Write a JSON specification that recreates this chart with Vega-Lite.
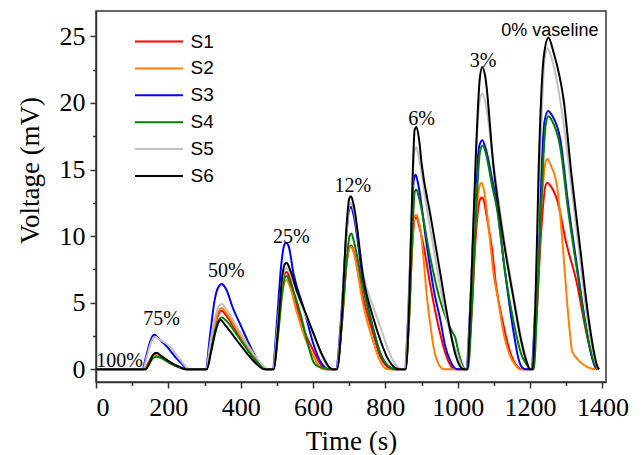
{
"$schema":"https://vega.github.io/schema/vega-lite/v6.json",
"width":510,"height":371,
"autosize":{"type":"none"},
"padding":{"left":96,"top":11,"right":38,"bottom":73},
"background":"white",
"config":{"view":{"stroke":"#333333","strokeWidth":1.5},
"axis":{"grid":false,"domainColor":"#333333","domainWidth":1.5,"tickColor":"#333333","tickWidth":1.5,"labelColor":"black","titleColor":"black","labelFont":"Liberation Serif","titleFont":"Liberation Serif","titleFontWeight":"normal"}},
"resolve":{"axis":{"x":"independent","y":"independent"}},
"layer":[
{"data":{"values":[
{"s":"S1","t":0,"v":0},{"s":"S1","t":132,"v":0},{"s":"S1","t":145,"v":0.5},{"s":"S1","t":155,"v":1.0},{"s":"S1","t":167,"v":1.2},{"s":"S1","t":180,"v":1.0},{"s":"S1","t":205,"v":0.5},{"s":"S1","t":230,"v":0.15},{"s":"S1","t":248,"v":0},
{"s":"S1","t":305,"v":0},{"s":"S1","t":318,"v":1.5},{"s":"S1","t":332,"v":3.6},{"s":"S1","t":342,"v":4.3},{"s":"S1","t":348,"v":4.4},{"s":"S1","t":358,"v":4.1},{"s":"S1","t":400,"v":2.3},{"s":"S1","t":440,"v":0.7},{"s":"S1","t":465,"v":0.05},{"s":"S1","t":470,"v":0},
{"s":"S1","t":490,"v":0},{"s":"S1","t":502,"v":2.5},{"s":"S1","t":514,"v":6.0},{"s":"S1","t":522,"v":7.2},{"s":"S1","t":527,"v":7.3},{"s":"S1","t":535,"v":6.9},{"s":"S1","t":555,"v":4.8},{"s":"S1","t":580,"v":2.6},{"s":"S1","t":601,"v":1.4},{"s":"S1","t":620,"v":0.4},{"s":"S1","t":635,"v":0},
{"s":"S1","t":665,"v":0},{"s":"S1","t":680,"v":3.5},{"s":"S1","t":693,"v":8},{"s":"S1","t":701,"v":9.2},{"s":"S1","t":706,"v":9.3},{"s":"S1","t":713,"v":8.8},{"s":"S1","t":740,"v":5.2},{"s":"S1","t":765,"v":2.8},{"s":"S1","t":786,"v":0.95},{"s":"S1","t":805,"v":0.2},{"s":"S1","t":820,"v":0},
{"s":"S1","t":855,"v":0},{"s":"S1","t":865,"v":3.5},{"s":"S1","t":875,"v":9.5},{"s":"S1","t":881,"v":11.3},{"s":"S1","t":886,"v":11.4},{"s":"S1","t":893,"v":10.8},{"s":"S1","t":906,"v":9.2},{"s":"S1","t":925,"v":6.2},{"s":"S1","t":943,"v":3.7},{"s":"S1","t":970,"v":0.9},{"s":"S1","t":985,"v":0.1},{"s":"S1","t":992,"v":0},
{"s":"S1","t":1025,"v":0},{"s":"S1","t":1038,"v":4},{"s":"S1","t":1050,"v":10},{"s":"S1","t":1060,"v":12.6},{"s":"S1","t":1066,"v":12.9},{"s":"S1","t":1073,"v":12.6},{"s":"S1","t":1080,"v":11.5},{"s":"S1","t":1095,"v":9},{"s":"S1","t":1105,"v":6.5},{"s":"S1","t":1125,"v":3.5},{"s":"S1","t":1146,"v":1.2},{"s":"S1","t":1165,"v":0.2},{"s":"S1","t":1178,"v":0},
{"s":"S1","t":1205,"v":0},{"s":"S1","t":1218,"v":4},{"s":"S1","t":1230,"v":10},{"s":"S1","t":1242,"v":13.7},{"s":"S1","t":1248,"v":14.0},{"s":"S1","t":1256,"v":13.8},{"s":"S1","t":1275,"v":12.7},{"s":"S1","t":1300,"v":9.5},{"s":"S1","t":1330,"v":6.4},{"s":"S1","t":1350,"v":3.5},{"s":"S1","t":1367,"v":1.4},{"s":"S1","t":1380,"v":0.2},{"s":"S1","t":1386,"v":0},

{"s":"S2","t":0,"v":0},{"s":"S2","t":134,"v":0},{"s":"S2","t":147,"v":0.5},{"s":"S2","t":157,"v":0.95},{"s":"S2","t":168,"v":1.05},{"s":"S2","t":180,"v":0.9},{"s":"S2","t":205,"v":0.45},{"s":"S2","t":235,"v":0.1},{"s":"S2","t":255,"v":0},
{"s":"S2","t":305,"v":0},{"s":"S2","t":318,"v":1.6},{"s":"S2","t":332,"v":3.8},{"s":"S2","t":342,"v":4.5},{"s":"S2","t":348,"v":4.6},{"s":"S2","t":358,"v":4.3},{"s":"S2","t":400,"v":2.5},{"s":"S2","t":440,"v":0.8},{"s":"S2","t":465,"v":0.1},{"s":"S2","t":472,"v":0},
{"s":"S2","t":490,"v":0},{"s":"S2","t":502,"v":2.3},{"s":"S2","t":514,"v":5.5},{"s":"S2","t":522,"v":6.6},{"s":"S2","t":527,"v":6.7},{"s":"S2","t":535,"v":6.3},{"s":"S2","t":555,"v":4.3},{"s":"S2","t":580,"v":2.2},{"s":"S2","t":601,"v":1.0},{"s":"S2","t":615,"v":0.3},{"s":"S2","t":628,"v":0},
{"s":"S2","t":665,"v":0},{"s":"S2","t":680,"v":3.5},{"s":"S2","t":693,"v":8},{"s":"S2","t":701,"v":9.1},{"s":"S2","t":706,"v":9.2},{"s":"S2","t":713,"v":8.7},{"s":"S2","t":740,"v":4.7},{"s":"S2","t":765,"v":2.2},{"s":"S2","t":786,"v":0.6},{"s":"S2","t":798,"v":0.1},{"s":"S2","t":808,"v":0},
{"s":"S2","t":855,"v":0},{"s":"S2","t":865,"v":3.6},{"s":"S2","t":875,"v":9.7},{"s":"S2","t":881,"v":11.5},{"s":"S2","t":886,"v":11.6},{"s":"S2","t":892,"v":11.1},{"s":"S2","t":897,"v":10.5},{"s":"S2","t":906,"v":8.2},{"s":"S2","t":915,"v":5.4},{"s":"S2","t":925,"v":3.2},{"s":"S2","t":933,"v":1.7},{"s":"S2","t":945,"v":0.5},{"s":"S2","t":955,"v":0.1},{"s":"S2","t":962,"v":0},
{"s":"S2","t":1025,"v":0},{"s":"S2","t":1038,"v":4.5},{"s":"S2","t":1050,"v":11},{"s":"S2","t":1060,"v":13.7},{"s":"S2","t":1066,"v":14.0},{"s":"S2","t":1073,"v":13.4},{"s":"S2","t":1088,"v":10},{"s":"S2","t":1100,"v":7},{"s":"S2","t":1110,"v":5.5},{"s":"S2","t":1127,"v":2.7},{"s":"S2","t":1145,"v":1.0},{"s":"S2","t":1160,"v":0.3},{"s":"S2","t":1172,"v":0},
{"s":"S2","t":1205,"v":0},{"s":"S2","t":1218,"v":4.5},{"s":"S2","t":1230,"v":11.5},{"s":"S2","t":1242,"v":15.4},{"s":"S2","t":1248,"v":15.8},{"s":"S2","t":1256,"v":15.4},{"s":"S2","t":1275,"v":13.7},{"s":"S2","t":1290,"v":9.5},{"s":"S2","t":1302,"v":5.2},{"s":"S2","t":1310,"v":2.8},{"s":"S2","t":1316,"v":1.4},{"s":"S2","t":1330,"v":0.8},{"s":"S2","t":1345,"v":0.4},{"s":"S2","t":1371,"v":0.05},{"s":"S2","t":1385,"v":0},

{"s":"S3","t":0,"v":0},{"s":"S3","t":128,"v":0},{"s":"S3","t":138,"v":0.9},{"s":"S3","t":150,"v":2.1},{"s":"S3","t":158,"v":2.55},{"s":"S3","t":163,"v":2.6},{"s":"S3","t":170,"v":2.4},{"s":"S3","t":196,"v":1.7},{"s":"S3","t":223,"v":0.8},{"s":"S3","t":240,"v":0.35},{"s":"S3","t":252,"v":0},
{"s":"S3","t":303,"v":0},{"s":"S3","t":315,"v":2.5},{"s":"S3","t":328,"v":5.2},{"s":"S3","t":340,"v":6.25},{"s":"S3","t":348,"v":6.4},{"s":"S3","t":358,"v":6.1},{"s":"S3","t":380,"v":4.5},{"s":"S3","t":400,"v":3.3},{"s":"S3","t":420,"v":2.1},{"s":"S3","t":440,"v":1.0},{"s":"S3","t":458,"v":0.25},{"s":"S3","t":470,"v":0},
{"s":"S3","t":488,"v":0},{"s":"S3","t":500,"v":3.5},{"s":"S3","t":512,"v":7.8},{"s":"S3","t":520,"v":9.3},{"s":"S3","t":525,"v":9.5},{"s":"S3","t":532,"v":9.3},{"s":"S3","t":546,"v":7.2},{"s":"S3","t":575,"v":4.5},{"s":"S3","t":601,"v":1.9},{"s":"S3","t":620,"v":0.6},{"s":"S3","t":635,"v":0.1},{"s":"S3","t":645,"v":0},
{"s":"S3","t":663,"v":0},{"s":"S3","t":678,"v":4},{"s":"S3","t":692,"v":10},{"s":"S3","t":700,"v":12.0},{"s":"S3","t":705,"v":12.2},{"s":"S3","t":712,"v":11.6},{"s":"S3","t":740,"v":6.3},{"s":"S3","t":765,"v":3.2},{"s":"S3","t":786,"v":1.2},{"s":"S3","t":810,"v":0.2},{"s":"S3","t":828,"v":0},
{"s":"S3","t":853,"v":0},{"s":"S3","t":863,"v":4},{"s":"S3","t":873,"v":11.5},{"s":"S3","t":879,"v":14.3},{"s":"S3","t":884,"v":14.6},{"s":"S3","t":890,"v":14.0},{"s":"S3","t":915,"v":9.2},{"s":"S3","t":935,"v":5.8},{"s":"S3","t":952,"v":3.7},{"s":"S3","t":965,"v":1.8},{"s":"S3","t":980,"v":0.6},{"s":"S3","t":1000,"v":0},
{"s":"S3","t":1023,"v":0},{"s":"S3","t":1035,"v":5},{"s":"S3","t":1048,"v":13},{"s":"S3","t":1060,"v":16.8},{"s":"S3","t":1068,"v":17.2},{"s":"S3","t":1076,"v":16.7},{"s":"S3","t":1095,"v":14.3},{"s":"S3","t":1109,"v":12.2},{"s":"S3","t":1130,"v":7.5},{"s":"S3","t":1155,"v":2.7},{"s":"S3","t":1168,"v":0.8},{"s":"S3","t":1178,"v":0.15},{"s":"S3","t":1188,"v":0},
{"s":"S3","t":1203,"v":0},{"s":"S3","t":1215,"v":5},{"s":"S3","t":1228,"v":13},{"s":"S3","t":1240,"v":18.6},{"s":"S3","t":1250,"v":19.4},{"s":"S3","t":1260,"v":19.1},{"s":"S3","t":1284,"v":17.2},{"s":"S3","t":1305,"v":12.5},{"s":"S3","t":1330,"v":7.7},{"s":"S3","t":1350,"v":4},{"s":"S3","t":1367,"v":1.4},{"s":"S3","t":1380,"v":0.2},{"s":"S3","t":1388,"v":0},

{"s":"S4","t":0,"v":0},{"s":"S4","t":136,"v":0},{"s":"S4","t":148,"v":0.45},{"s":"S4","t":158,"v":0.85},{"s":"S4","t":168,"v":0.95},{"s":"S4","t":180,"v":0.85},{"s":"S4","t":205,"v":0.45},{"s":"S4","t":230,"v":0.15},{"s":"S4","t":248,"v":0},
{"s":"S4","t":306,"v":0},{"s":"S4","t":318,"v":1.4},{"s":"S4","t":332,"v":3.2},{"s":"S4","t":342,"v":3.8},{"s":"S4","t":348,"v":3.9},{"s":"S4","t":358,"v":3.7},{"s":"S4","t":400,"v":2.2},{"s":"S4","t":440,"v":0.7},{"s":"S4","t":468,"v":0.05},{"s":"S4","t":475,"v":0},
{"s":"S4","t":491,"v":0},{"s":"S4","t":503,"v":2.5},{"s":"S4","t":515,"v":5.8},{"s":"S4","t":522,"v":6.9},{"s":"S4","t":527,"v":7.0},{"s":"S4","t":535,"v":6.6},{"s":"S4","t":565,"v":4.2},{"s":"S4","t":585,"v":2.0},{"s":"S4","t":601,"v":0.55},{"s":"S4","t":615,"v":0.2},{"s":"S4","t":640,"v":0.05},{"s":"S4","t":655,"v":0},
{"s":"S4","t":666,"v":0},{"s":"S4","t":680,"v":3.5},{"s":"S4","t":694,"v":8.5},{"s":"S4","t":701,"v":10.0},{"s":"S4","t":706,"v":10.2},{"s":"S4","t":713,"v":9.6},{"s":"S4","t":740,"v":5.9},{"s":"S4","t":765,"v":3.2},{"s":"S4","t":786,"v":1.2},{"s":"S4","t":810,"v":0.2},{"s":"S4","t":830,"v":0},
{"s":"S4","t":856,"v":0},{"s":"S4","t":866,"v":4},{"s":"S4","t":876,"v":11},{"s":"S4","t":881,"v":13.3},{"s":"S4","t":886,"v":13.5},{"s":"S4","t":892,"v":13.0},{"s":"S4","t":924,"v":8.4},{"s":"S4","t":950,"v":5.3},{"s":"S4","t":970,"v":3.7},{"s":"S4","t":985,"v":2.8},{"s":"S4","t":993,"v":2.4},{"s":"S4","t":1003,"v":1.2},{"s":"S4","t":1012,"v":0.4},{"s":"S4","t":1022,"v":0},
{"s":"S4","t":1028,"v":0},{"s":"S4","t":1040,"v":5},{"s":"S4","t":1052,"v":12.5},{"s":"S4","t":1062,"v":16.4},{"s":"S4","t":1069,"v":16.8},{"s":"S4","t":1077,"v":16.3},{"s":"S4","t":1095,"v":13.8},{"s":"S4","t":1109,"v":12.0},{"s":"S4","t":1130,"v":7.5},{"s":"S4","t":1155,"v":3.5},{"s":"S4","t":1175,"v":1.2},{"s":"S4","t":1192,"v":0.3},{"s":"S4","t":1205,"v":0},
{"s":"S4","t":1210,"v":0},{"s":"S4","t":1220,"v":5},{"s":"S4","t":1232,"v":13},{"s":"S4","t":1243,"v":18.3},{"s":"S4","t":1251,"v":19.0},{"s":"S4","t":1260,"v":18.7},{"s":"S4","t":1284,"v":16.6},{"s":"S4","t":1305,"v":12},{"s":"S4","t":1330,"v":7.4},{"s":"S4","t":1350,"v":3.8},{"s":"S4","t":1367,"v":1.5},{"s":"S4","t":1380,"v":0.3},{"s":"S4","t":1390,"v":0},

{"s":"S5","t":0,"v":0},{"s":"S5","t":130,"v":0},{"s":"S5","t":140,"v":0.9},{"s":"S5","t":152,"v":2.0},{"s":"S5","t":160,"v":2.4},{"s":"S5","t":165,"v":2.45},{"s":"S5","t":172,"v":2.3},{"s":"S5","t":190,"v":2.0},{"s":"S5","t":205,"v":1.7},{"s":"S5","t":225,"v":1.0},{"s":"S5","t":242,"v":0.4},{"s":"S5","t":258,"v":0},
{"s":"S5","t":304,"v":0},{"s":"S5","t":316,"v":2.0},{"s":"S5","t":330,"v":4.0},{"s":"S5","t":341,"v":4.8},{"s":"S5","t":348,"v":4.9},{"s":"S5","t":358,"v":4.6},{"s":"S5","t":400,"v":2.7},{"s":"S5","t":440,"v":1.0},{"s":"S5","t":465,"v":0.2},{"s":"S5","t":478,"v":0},
{"s":"S5","t":489,"v":0},{"s":"S5","t":501,"v":3},{"s":"S5","t":514,"v":6.5},{"s":"S5","t":522,"v":7.5},{"s":"S5","t":527,"v":7.6},{"s":"S5","t":535,"v":7.3},{"s":"S5","t":555,"v":5.8},{"s":"S5","t":580,"v":4.0},{"s":"S5","t":601,"v":2.8},{"s":"S5","t":625,"v":1.0},{"s":"S5","t":645,"v":0.15},{"s":"S5","t":655,"v":0},
{"s":"S5","t":664,"v":0},{"s":"S5","t":679,"v":4},{"s":"S5","t":692,"v":10},{"s":"S5","t":700,"v":12.3},{"s":"S5","t":705,"v":12.5},{"s":"S5","t":712,"v":12.0},{"s":"S5","t":740,"v":7.0},{"s":"S5","t":765,"v":4.8},{"s":"S5","t":786,"v":3.2},{"s":"S5","t":815,"v":1.0},{"s":"S5","t":835,"v":0.15},{"s":"S5","t":845,"v":0},
{"s":"S5","t":854,"v":0},{"s":"S5","t":864,"v":4.5},{"s":"S5","t":874,"v":13},{"s":"S5","t":880,"v":16.3},{"s":"S5","t":885,"v":16.7},{"s":"S5","t":892,"v":16.0},{"s":"S5","t":915,"v":12},{"s":"S5","t":940,"v":8},{"s":"S5","t":960,"v":5},{"s":"S5","t":985,"v":2.2},{"s":"S5","t":1000,"v":1},{"s":"S5","t":1012,"v":0.2},{"s":"S5","t":1020,"v":0},
{"s":"S5","t":1024,"v":0},{"s":"S5","t":1036,"v":5.5},{"s":"S5","t":1049,"v":15},{"s":"S5","t":1060,"v":20},{"s":"S5","t":1068,"v":20.7},{"s":"S5","t":1076,"v":20.1},{"s":"S5","t":1099,"v":15.5},{"s":"S5","t":1130,"v":9.5},{"s":"S5","t":1155,"v":5.5},{"s":"S5","t":1180,"v":1.8},{"s":"S5","t":1195,"v":0.3},{"s":"S5","t":1203,"v":0},
{"s":"S5","t":1206,"v":0},{"s":"S5","t":1216,"v":6},{"s":"S5","t":1228,"v":16},{"s":"S5","t":1240,"v":23.2},{"s":"S5","t":1248,"v":24.1},{"s":"S5","t":1258,"v":23.5},{"s":"S5","t":1290,"v":19},{"s":"S5","t":1315,"v":13.5},{"s":"S5","t":1335,"v":9},{"s":"S5","t":1355,"v":4.5},{"s":"S5","t":1375,"v":1.2},{"s":"S5","t":1388,"v":0},

{"s":"S6","t":0,"v":0},{"s":"S6","t":137,"v":0},{"s":"S6","t":148,"v":0.5},{"s":"S6","t":158,"v":1.1},{"s":"S6","t":168,"v":1.25},{"s":"S6","t":178,"v":1.05},{"s":"S6","t":205,"v":0.55},{"s":"S6","t":230,"v":0.2},{"s":"S6","t":250,"v":0},
{"s":"S6","t":306,"v":0},{"s":"S6","t":318,"v":1.3},{"s":"S6","t":332,"v":3.0},{"s":"S6","t":340,"v":3.6},{"s":"S6","t":345,"v":3.7},{"s":"S6","t":355,"v":3.4},{"s":"S6","t":400,"v":1.8},{"s":"S6","t":440,"v":0.5},{"s":"S6","t":460,"v":0.05},{"s":"S6","t":465,"v":0},
{"s":"S6","t":491,"v":0},{"s":"S6","t":503,"v":3},{"s":"S6","t":515,"v":7},{"s":"S6","t":522,"v":7.9},{"s":"S6","t":527,"v":8.0},{"s":"S6","t":535,"v":7.6},{"s":"S6","t":555,"v":5.9},{"s":"S6","t":580,"v":4.2},{"s":"S6","t":601,"v":2.7},{"s":"S6","t":625,"v":1.1},{"s":"S6","t":647,"v":0.1},{"s":"S6","t":656,"v":0},
{"s":"S6","t":666,"v":0},{"s":"S6","t":680,"v":4},{"s":"S6","t":692,"v":10.5},{"s":"S6","t":700,"v":12.8},{"s":"S6","t":705,"v":13.0},{"s":"S6","t":712,"v":12.4},{"s":"S6","t":740,"v":6.7},{"s":"S6","t":765,"v":4.0},{"s":"S6","t":786,"v":2.2},{"s":"S6","t":805,"v":0.9},{"s":"S6","t":823,"v":0.2},{"s":"S6","t":840,"v":0},
{"s":"S6","t":856,"v":0},{"s":"S6","t":866,"v":5},{"s":"S6","t":876,"v":15},{"s":"S6","t":881,"v":18.0},{"s":"S6","t":886,"v":18.2},{"s":"S6","t":893,"v":17.3},{"s":"S6","t":900,"v":15.5},{"s":"S6","t":925,"v":11.5},{"s":"S6","t":950,"v":7.5},{"s":"S6","t":975,"v":3.5},{"s":"S6","t":995,"v":1.0},{"s":"S6","t":1010,"v":0.1},{"s":"S6","t":1018,"v":0},
{"s":"S6","t":1026,"v":0},{"s":"S6","t":1037,"v":6},{"s":"S6","t":1050,"v":16},{"s":"S6","t":1061,"v":21.8},{"s":"S6","t":1068,"v":22.7},{"s":"S6","t":1076,"v":22.0},{"s":"S6","t":1099,"v":15.2},{"s":"S6","t":1125,"v":10},{"s":"S6","t":1155,"v":5.2},{"s":"S6","t":1175,"v":2.2},{"s":"S6","t":1190,"v":0.6},{"s":"S6","t":1200,"v":0},
{"s":"S6","t":1207,"v":0},{"s":"S6","t":1215,"v":5},{"s":"S6","t":1224,"v":15.2},{"s":"S6","t":1238,"v":23.5},{"s":"S6","t":1251,"v":24.9},{"s":"S6","t":1265,"v":23.8},{"s":"S6","t":1293,"v":20.2},{"s":"S6","t":1315,"v":14.5},{"s":"S6","t":1339,"v":9.0},{"s":"S6","t":1360,"v":4.2},{"s":"S6","t":1376,"v":1.4},{"s":"S6","t":1385,"v":0.3},{"s":"S6","t":1391,"v":0}
]},
"mark":{"type":"line","interpolate":"monotone","strokeWidth":2},
"encoding":{
"x":{"field":"t","type":"quantitative","scale":{"domain":[0,1410],"nice":false,"zero":false},
"axis":{"orient":"bottom","values":[0,200,400,600,800,1000,1200,1400],"format":"d","tickSize":6,"labelFont":"Liberation Serif","labelFontSize":26,"labelPadding":6,"title":"Time (s)","titleFont":"Liberation Serif","titleFontSize":27,"titlePadding":8}},
"y":{"field":"v","type":"quantitative","scale":{"domain":[-0.95,26.9],"nice":false,"zero":false},
"axis":{"orient":"left","values":[0,5,10,15,20,25],"format":"d","tickSize":6,"labelFont":"Liberation Serif","labelFontSize":26,"labelPadding":5,"title":"Voltage (mV)","titleFont":"Liberation Serif","titleFontSize":27,"titleX":-66,"titleY":159,"titleBaseline":"middle","titleAlign":"center"}},
"color":{"field":"s","type":"nominal","scale":{"domain":["S1","S2","S3","S4","S5","S6"],"range":["#ff0000","#ff8000","#0000ff","#008000","#c0c0c0","#000000"]},
"legend":{"title":null,"orient":"none","legendX":53.5,"legendY":21,"padding":0,"symbolType":"M-3,0H3","symbolSize":256,"symbolStrokeWidth":2,"labelFont":"Liberation Sans","labelFontSize":19,"labelColor":"black","labelOffset":22,"labelBaseline":"middle","rowPadding":6.9}}
}},
{"data":{"values":[
{"label":"100%","t":65,"v":0.15},
{"label":"75%","t":181,"v":3.31},
{"label":"50%","t":360,"v":6.92},
{"label":"25%","t":540,"v":9.48},
{"label":"12%","t":710,"v":13.3},
{"label":"6%","t":900,"v":18.36},
{"label":"3%","t":1070,"v":22.7}
]},
"mark":{"type":"text","font":"Liberation Serif","fontSize":20,"align":"center","baseline":"alphabetic","color":"black"},
"encoding":{
"x":{"field":"t","type":"quantitative","scale":{"domain":[0,1410],"nice":false,"zero":false},
"axis":{"orient":"bottom","values":[100,300,500,700,900,1100,1300],"labels":false,"domain":false,"tickSize":3.5,"title":null}},
"y":{"field":"v","type":"quantitative","scale":{"domain":[-0.95,26.9],"nice":false,"zero":false},
"axis":{"orient":"left","values":[2.5,7.5,12.5,17.5,22.5],"labels":false,"domain":false,"tickSize":3.5,"title":null}},
"text":{"field":"label"}}
},
{"data":{"values":[{"label":"0% vaseline","t":1389,"v":25.05}]},
"mark":{"type":"text","font":"Liberation Sans","fontSize":18,"align":"right","baseline":"alphabetic","color":"black"},
"encoding":{
"x":{"field":"t","type":"quantitative","scale":{"domain":[0,1410],"nice":false,"zero":false},"axis":null},
"y":{"field":"v","type":"quantitative","scale":{"domain":[-0.95,26.9],"nice":false,"zero":false},"axis":null},
"text":{"field":"label"}}
}
]
}
